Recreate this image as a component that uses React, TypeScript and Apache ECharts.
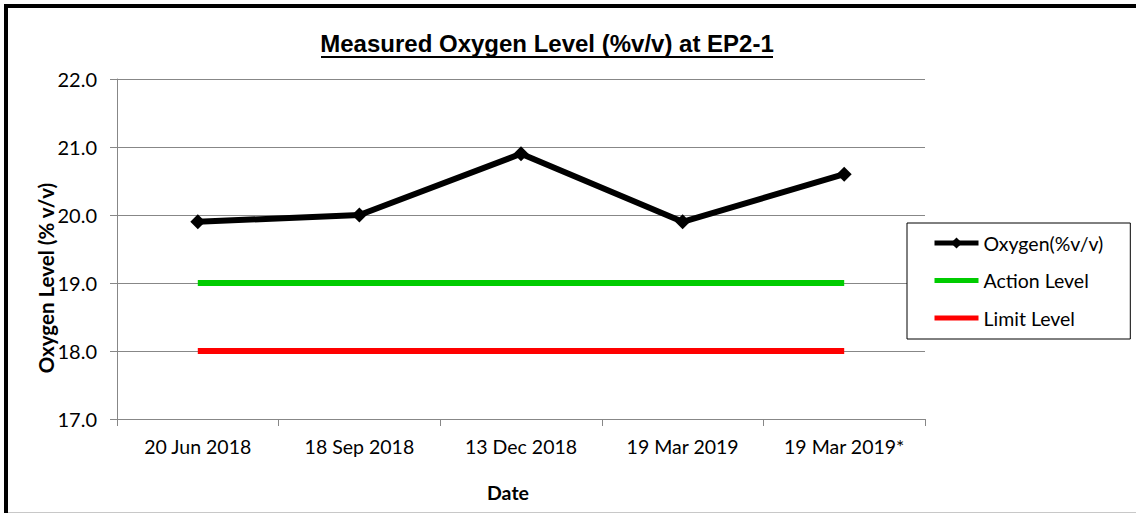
import React, { useEffect, useRef } from 'react';
import * as echarts from 'echarts';

const categories = ['20 Jun 2018', '18 Sep 2018', '13 Dec 2018', '19 Mar 2019', '19 Mar 2019*'];
const oxygen = [19.9, 20.0, 20.9, 19.9, 20.6];
const actionLevel = [19, 19, 19, 19, 19];
const limitLevel = [18, 18, 18, 18, 18];
const yMin = 17;
const yMax = 22;
const yStep = 1;

const titleText = 'Measured Oxygen Level (%v/v) at EP2-1';
const yTitle = 'Oxygen Level (% v/v)';
const xTitle = 'Date';
const seriesNames = ['Oxygen(%v/v)', 'Action Level', 'Limit Level'];

const FONT = 'Lato, "Open Sans", sans-serif';
const GRID = '#878787';
const BAR_ICON = 'path://M0 0H44V5H0Z';

export default function App() {
  const ref = useRef<HTMLDivElement>(null);
  useEffect(() => {
    document.body.style.margin = '0';
    if (!ref.current) return;
    const chart = echarts.init(ref.current, null, { renderer: 'svg' });
    chart.setOption({
      animation: false,
      backgroundColor: '#fff',
      textStyle: { fontFamily: FONT },
      grid: { left: 117, top: 79, width: 808, height: 340, containLabel: false, outerBoundsMode: 'none' },
      xAxis: {
        type: 'category',
        data: categories,
        boundaryGap: true,
        axisLine: { show: true, lineStyle: { color: GRID, width: 1 } },
        axisTick: { show: true, length: 7, lineStyle: { color: GRID } },
        axisLabel: { color: '#000', fontSize: 19.5, fontFamily: FONT, margin: 17, interval: 0 },
        splitLine: { show: false },
      },
      yAxis: {
        type: 'value',
        min: yMin,
        max: yMax,
        interval: yStep,
        axisLine: { show: true, lineStyle: { color: GRID, width: 1 } },
        axisTick: { show: true, length: 7, lineStyle: { color: GRID } },
        axisLabel: {
          color: '#000',
          fontSize: 20,
          fontFamily: FONT,
          margin: 20,
          formatter: (v: number) => v.toFixed(1),
        },
        splitLine: { show: true, lineStyle: { color: GRID, width: 1 } },
      },
      legend: {
        orient: 'vertical',
        left: 907,
        top: 223,
        padding: [10, 27, 11, 25],
        itemGap: 17.5,
        itemWidth: 44,
        itemHeight: 14,
        backgroundColor: '#fff',
        borderColor: '#000',
        borderWidth: 1,
        borderRadius: 0,
        lineStyle: { width: 5 },
        textStyle: { color: '#000', fontSize: 19.5, fontFamily: FONT },
        data: [
          { name: seriesNames[0] },
          { name: seriesNames[1], icon: BAR_ICON },
          { name: seriesNames[2], icon: BAR_ICON },
        ],
      },
      series: [
        {
          name: seriesNames[1],
          type: 'line',
          data: actionLevel,
          symbol: 'none',
          lineStyle: { color: '#00cc00', width: 6 },
          itemStyle: { color: '#00cc00' },
          z: 2,
        },
        {
          name: seriesNames[2],
          type: 'line',
          data: limitLevel,
          symbol: 'none',
          lineStyle: { color: '#ff0000', width: 6 },
          itemStyle: { color: '#ff0000' },
          z: 2,
        },
        {
          name: seriesNames[0],
          type: 'line',
          data: oxygen,
          symbol: 'diamond',
          symbolSize: 15,
          lineStyle: { color: '#000', width: 6 },
          itemStyle: { color: '#000' },
          z: 3,
        },
      ],
      graphic: [
        { type: 'rect', shape: { x: 4, y: 4, width: 1132, height: 4 }, style: { fill: '#000' }, z: 10 },
        { type: 'rect', shape: { x: 4, y: 4, width: 4, height: 509 }, style: { fill: '#000' }, z: 10 },
        { type: 'line', shape: { x1: 8, y1: 512.5, x2: 1136, y2: 512.5 }, style: { stroke: '#c8c8c8', lineWidth: 1 }, z: 10 },
        {
          type: 'text',
          x: 547,
          y: 43.5,
          style: {
            text: titleText,
            font: 'bold 24px "Liberation Sans", Arial, sans-serif',
            fill: '#000',
            align: 'center',
            verticalAlign: 'middle',
          },
        },
        { type: 'line', shape: { x1: 321, y1: 57, x2: 773, y2: 57 }, style: { stroke: '#000', lineWidth: 2 } },
        {
          type: 'text',
          x: 46,
          y: 278,
          rotation: Math.PI / 2,
          style: {
            text: yTitle,
            fontFamily: FONT,
            fontWeight: 'bold',
            fontSize: 20.5,
            fill: '#000',
            align: 'center',
            verticalAlign: 'middle',
          },
        },
        {
          type: 'text',
          x: 508,
          y: 492,
          style: {
            text: xTitle,
            fontFamily: FONT,
            fontWeight: 'bold',
            fontSize: 19.5,
            fill: '#000',
            align: 'center',
            verticalAlign: 'middle',
          },
        },
      ],
    });
    return () => chart.dispose();
  }, []);
  return <div ref={ref} style={{ width: 1136, height: 513 }} />;
}
